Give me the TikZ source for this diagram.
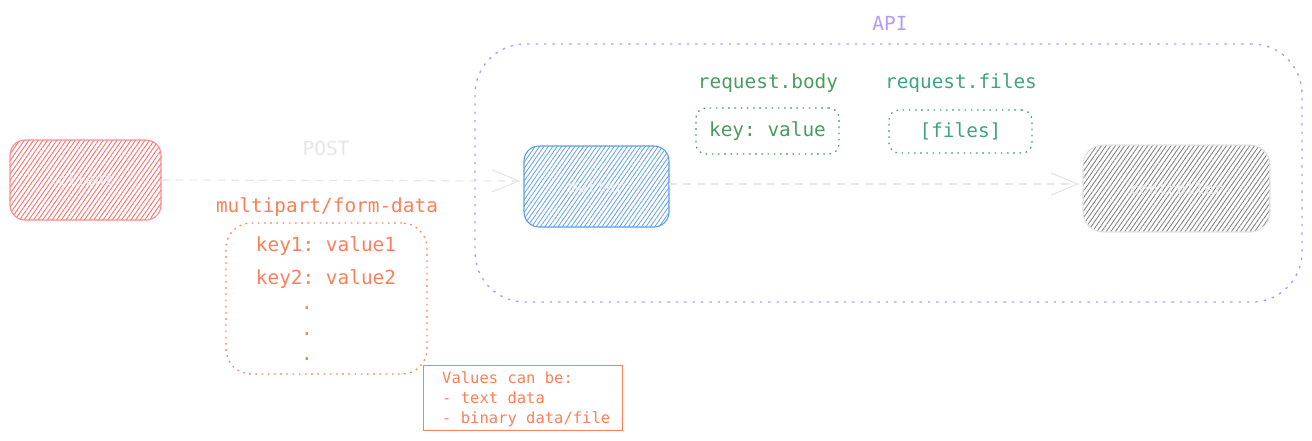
\documentclass[tikz,border=0pt]{standalone}
\usepackage{fontspec}
\setmonofont{DejaVu Sans Mono}
\usepackage{xcolor}
\usepackage{tikz}
\usetikzlibrary{positioning}
\usetikzlibrary{arrows.meta}
\usetikzlibrary{patterns.meta}

\definecolor{clientred}{HTML}{FF8A8A}
\definecolor{clienthatch}{HTML}{FF6E6E}
\definecolor{multerblue}{HTML}{5A9FE6}
\definecolor{multerhatch}{HTML}{6FAAEC}
\definecolor{ctrlgray}{HTML}{E4E4E4}
\definecolor{ctrlhatch}{HTML}{858585}
\definecolor{flowgray}{HTML}{E6E6E6}
\definecolor{labelgray}{HTML}{EDEDED}
\definecolor{apipurple}{HTML}{B39BF7}
\definecolor{formorange}{HTML}{F9805A}
\definecolor{bodygreen}{HTML}{4A9D5F}
\definecolor{filesteal}{HTML}{40A383}

\begin{document}
\begin{tikzpicture}[
  x=1pt, y=-1pt,
  font=\ttfamily\fontsize{19.4}{23}\selectfont,
  block/.style={rounded corners=15pt, line width=1.1pt, inner sep=0pt,
    font=\ttfamily\fontsize{15.5}{18}\selectfont, text=labelgray},
  hatch/.style={pattern={Lines[angle=55,distance=#1,line width=0.9pt]}},
  flow/.style={line width=1.1pt, draw=flowgray, dash pattern=on 8pt off 6pt,
    -{Straight Barb[length=27pt,width=22pt,line width=1.1pt]}},
  dotbox/.style={rounded corners=#1, line width=1.3pt,
    dash pattern=on 1.6pt off 4.6pt, inner sep=0pt},
  note/.style={font=\ttfamily\fontsize{15.5}{20}\selectfont, text=formorange,
    align=left, inner sep=0pt}
]
\useasboundingbox (0,0) rectangle (1312,440);

% API container
\node[dotbox=50pt, draw=apipurple, line width=1.4pt, dash pattern=on 2.4pt off 6pt,
  minimum width=827pt, minimum height=258pt] (api) at (888.5,173) {};
\node[text=apipurple, anchor=base] (apilabel) at (890,30.5) {API};

% Client / multer / controller
\node[block, draw=clientred, hatch=3.8pt, pattern color=clienthatch,
  minimum width=151pt, minimum height=80pt] (client) at (85.5,180) {client};
\node[block, draw=multerblue, hatch=3.6pt, pattern color=multerhatch,
  minimum width=145pt, minimum height=81pt] (multer) at (596.5,186.5) {multer};
\node[block, rounded corners=20pt, draw=ctrlgray, hatch=3.8pt, pattern color=ctrlhatch,
  minimum width=187pt, minimum height=87pt] (controller) at (1176.5,188.5) {controller};

% Requests
\draw[flow] (client.east) -- ([xshift=-3pt,yshift=5.5pt]multer.west);
\node[text=flowgray, anchor=base] (post) at (326,155) {POST};
\draw[flow] ([yshift=2.5pt]multer.east) -- ([xshift=-3pt,yshift=4.5pt]controller.west);

% Form data payload
\node[text=formorange, anchor=base] (formtype) at (327,212) {multipart/form-data};
\node[dotbox=25pt, draw=formorange, minimum width=201pt, minimum height=151pt]
  (form) at (326.5,298.5) {};
\node[text=formorange, anchor=base] (key1) at (326,251) {key1: value1};
\node[text=formorange, anchor=base] (key2) at (326,284) {key2: value2};
\node[text=formorange, anchor=base] (dota) at (307,309) {.};
\node[text=formorange, anchor=base] (dotb) at (307,335) {.};
\node[text=formorange, anchor=base] (dotc) at (307,360) {.};

% Note on values
\node[draw=formorange, line width=1.1pt, minimum width=199pt, minimum height=65pt,
  anchor=north west, inner sep=0pt] (notebox) at (423,365) {};
\node[note, anchor=base west] (notetext) at (442,423.3)
  {Values can be:\\- text data\\- binary data/file};

% What the controller gets
\node[text=bodygreen, anchor=base] (bodylabel) at (768,88) {request.body};
\node[dotbox=10pt, draw=bodygreen, text=bodygreen, minimum width=143pt,
  minimum height=46pt] (body) at (767.5,131) {key: value};
\node[text=filesteal, anchor=base] (fileslabel) at (961,88) {request.files};
\node[dotbox=10pt, draw=filesteal, text=filesteal, minimum width=143pt,
  minimum height=43pt] (files) at (960.5,131.5) {[files]};

\end{tikzpicture}
\end{document}
